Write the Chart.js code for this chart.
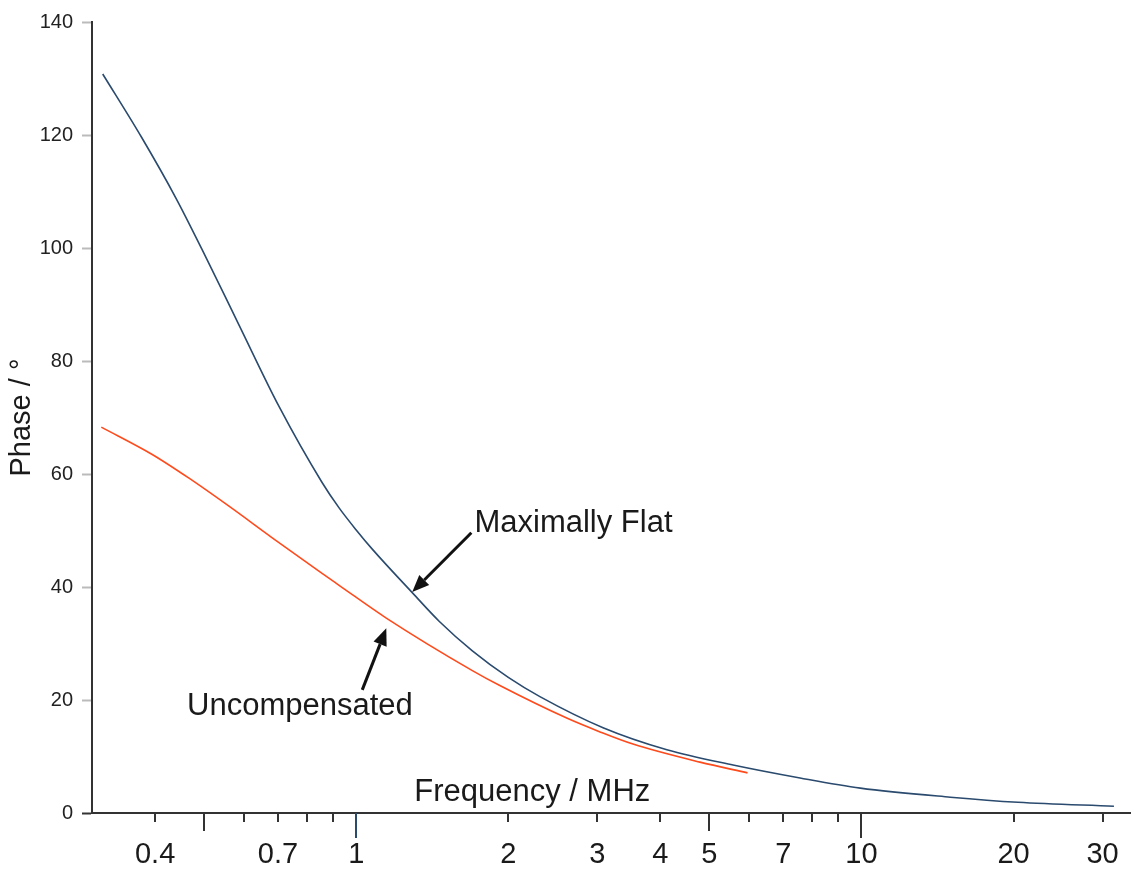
<!DOCTYPE html>
<html>
<head>
<meta charset="utf-8">
<script src="https://cdn.jsdelivr.net/npm/chart.js@4.4.1/dist/chart.umd.min.js"></script>
<style>
  html, body { margin: 0; padding: 0; background: #fff; }
</style>
</head>
<body>
<canvas id="phaseChart" width="1135" height="873"></canvas>
<script>
// values (frequency in MHz, phase in degrees)
var flatFreq  = [0.315, 0.376, 0.44, 0.495, 0.586, 0.703, 0.856, 0.925, 1.0, 1.076, 1.291, 1.461, 1.698, 2.0, 2.31, 3.08, 4.12, 5.57, 7.56, 9.95, 15.0, 20.4, 31.6];
var flatPhase = [130.8, 119.6, 108.8, 99.8, 86.4, 72.0, 58.5, 54.0, 50.1, 46.7, 39.0, 33.9, 28.7, 24.0, 20.6, 15.1, 11.2, 8.5, 6.2, 4.4, 2.8, 1.9, 1.2];
var uncompFreq  = [0.313, 0.394, 0.466, 0.56, 0.68, 0.856, 0.925, 1.147, 1.698, 1.92, 2.61, 3.03, 3.53, 4.79, 5.95];
var uncompPhase = [68.3, 63.5, 59.3, 54.3, 48.8, 42.4, 40.3, 34.5, 25.2, 22.6, 16.8, 14.4, 12.2, 9.0, 7.1];

var xTickValues = [0.4, 0.5, 0.6, 0.7, 0.8, 0.9, 1, 2, 3, 4, 5, 6, 7, 8, 9, 10, 20, 30];
var xTickLabels = ['0.4', '0.7', '1', '2', '3', '4', '5', '7', '10', '20', '30'];
var yTickStep = 20;

const fontFamily = '"Liberation Sans", Arial, sans-serif';
const blue = '#2a4a6e';
const red = '#ff4a1c';

function toPoints(xs, ys){
  return xs.map(function(x, i){ return {x: x, y: ys[i]}; });
}

// tick marks under the x axis: long at 0.5/5, longer at 1/10
const tickMarks = {
  id: 'tickMarks',
  afterDraw(chart){
    const ctx = chart.ctx, xs = chart.scales.x, y0 = chart.chartArea.bottom;
    ctx.save();
    ctx.lineWidth = 2;
    xTickValues.forEach(function(v){
      const px = Math.round(xs.getPixelForValue(v));
      let len = 9, col = '#333';
      if (v == 1 || v == 10) len = 25;
      else if (v == 0.5 || v == 5) len = 18;
      if (v == 1) col = blue;
      ctx.strokeStyle = col;
      ctx.beginPath();
      ctx.moveTo(px, y0);
      ctx.lineTo(px, y0 + len);
      ctx.stroke();
    });
    ctx.restore();
  }
};

// labels and arrows, placed in data coordinates
const notes = [
  {text: 'Maximally Flat', at: [1.714, 49.7], tail: [1.69, 49.6], tip: [1.291, 39.1]},
  {text: 'Uncompensated', at: [0.4627, 17.3], tail: [1.028, 21.8], tip: [1.147, 32.7]},
  {text: 'Frequency / MHz', at: [1.303, 2.18]}
];
const annotations = {
  id: 'annotations',
  afterDraw(chart){
    const ctx = chart.ctx, xs = chart.scales.x, ys = chart.scales.y;
    ctx.save();
    ctx.font = '31px ' + fontFamily;
    ctx.textAlign = 'left';
    ctx.textBaseline = 'alphabetic';
    notes.forEach(function(n){
      ctx.fillStyle = '#1a1a1a';
      ctx.fillText(n.text, xs.getPixelForValue(n.at[0]), ys.getPixelForValue(n.at[1]));
      if (!n.tip) return;
      const x1 = xs.getPixelForValue(n.tail[0]), y1 = ys.getPixelForValue(n.tail[1]);
      const x2 = xs.getPixelForValue(n.tip[0]), y2 = ys.getPixelForValue(n.tip[1]);
      const ang = Math.atan2(y2 - y1, x2 - x1);
      const headLen = 17, headW = 7;
      const bx = x2 - headLen * Math.cos(ang), by = y2 - headLen * Math.sin(ang);
      ctx.strokeStyle = '#111';
      ctx.lineWidth = 3;
      ctx.beginPath();
      ctx.moveTo(x1, y1);
      ctx.lineTo(bx, by);
      ctx.stroke();
      ctx.fillStyle = '#111';
      ctx.beginPath();
      ctx.moveTo(x2, y2);
      ctx.lineTo(bx + headW * Math.sin(ang), by - headW * Math.cos(ang));
      ctx.lineTo(bx - headW * Math.sin(ang), by + headW * Math.cos(ang));
      ctx.closePath();
      ctx.fill();
    });
    ctx.restore();
  }
};

var ctx = document.getElementById('phaseChart').getContext('2d');
var myChart = new Chart(ctx, {
  type: 'line',
  data: {
    datasets: [{
      label: 'Maximally Flat',
      data: toPoints(flatFreq, flatPhase),
      borderColor: blue,
      borderWidth: 1.6,
      pointRadius: 0,
      cubicInterpolationMode: 'monotone',
      fill: false
    }, {
      label: 'Uncompensated',
      data: toPoints(uncompFreq, uncompPhase),
      borderColor: red,
      borderWidth: 1.6,
      pointRadius: 0,
      cubicInterpolationMode: 'monotone',
      fill: false
    }]
  },
  options: {
    responsive: false,
    animation: false,
    layout: { padding: { top: 22, right: 5, left: 1, bottom: 0 } },
    plugins: {
      legend: { display: false },
      tooltip: { enabled: false }
    },
    scales: {
      x: {
        type: 'logarithmic',
        min: 0.3,
        max: 34,
        afterBuildTicks: function(scale){
          scale.ticks = xTickValues.map(function(v){ return {value: v}; });
        },
        afterFit: function(scale){
          scale.height = 60;
          scale.paddingLeft = 0;
          scale.paddingRight = 0;
        },
        ticks: {
          autoSkip: false,
          maxRotation: 0,
          minRotation: 0,
          padding: 25,
          color: '#1a1a1a',
          font: { family: fontFamily, size: 29 },
          callback: function(value){
            const s = String(value);
            return xTickLabels.indexOf(s) >= 0 ? s : '';
          }
        },
        grid: { display: false, drawTicks: false },
        border: { display: true, color: '#333', width: 2 }
      },
      y: {
        min: 0,
        max: 140,
        afterFit: function(scale){
          scale.width = 91;
        },
        ticks: {
          stepSize: yTickStep,
          padding: 9,
          color: '#222',
          font: { family: fontFamily, size: 20 }
        },
        grid: {
          drawOnChartArea: false,
          drawTicks: true,
          tickLength: 10,
          tickWidth: 2,
          tickColor: function(c){ return c.tick && c.tick.value === 0 ? '#333' : '#bbb'; }
        },
        border: { display: true, color: '#333', width: 2 },
        title: {
          display: true,
          text: 'Phase / °',
          color: '#1a1a1a',
          font: { family: fontFamily, size: 29 },
          padding: { top: 4, bottom: 0 }
        }
      }
    }
  },
  plugins: [tickMarks, annotations]
});
</script>
</body>
</html>
